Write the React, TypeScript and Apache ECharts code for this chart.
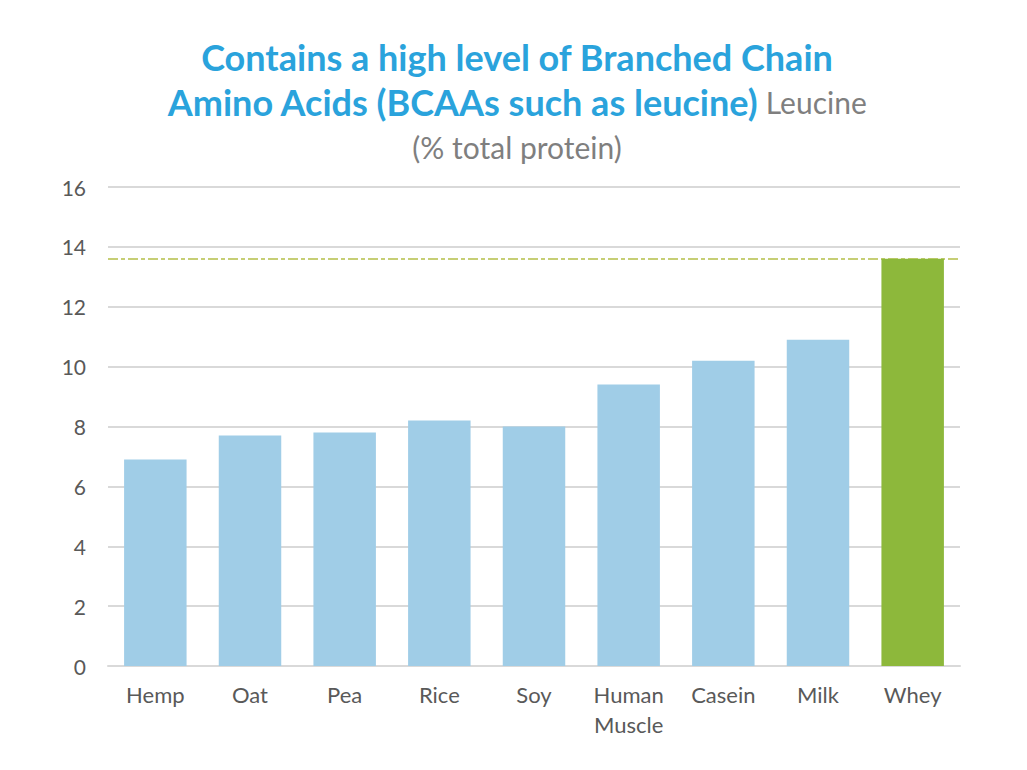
import React, { useEffect, useRef } from "react";
import * as echarts from "echarts";

const categories = ["Hemp", "Oat", "Pea", "Rice", "Soy", "Human\nMuscle", "Casein", "Milk", "Whey"];
const leucineValues = [6.9, 7.7, 7.8, 8.2, 8.0, 9.4, 10.2, 10.9, 13.6];
const highlightIndex = 8;
const referenceLevel = 13.6;
const yTicks = { min: 0, max: 16, interval: 2 };

export default function App() {
  const ref = useRef<HTMLDivElement>(null);
  useEffect(() => {
    if (!ref.current) return;
    const chart = echarts.init(ref.current, null, { renderer: "svg" });
    const font = "Lato, 'Open Sans', sans-serif";
    chart.setOption({
      animation: false,
      backgroundColor: "#ffffff",
      graphic: [
        {
          type: "text",
          x: 517,
          y: 34,
          style: {
            text:
              "{b|Contains a high level of Branched Chain}\n{b|Amino Acids (BCAAs such as leucine)}{g| Leucine}\n{g|(% total protein)}",
            align: "center",
            verticalAlign: "top",
            rich: {
              b: { fontFamily: font, fontWeight: "bold", fontSize: 36, fill: "#2aa3dc", lineHeight: 45 },
              g: { fontFamily: font, fontWeight: "normal", fontSize: 30, fill: "#7f7f7f", lineHeight: 45 },
            },
          },
        },
      ],
      grid: { left: 108, right: 67, top: 187, bottom: 104, containLabel: false },
      xAxis: {
        type: "category",
        data: categories,
        axisLine: { show: true, lineStyle: { color: "#d9d9d9", width: 2 } },
        axisTick: { show: false },
        axisLabel: { color: "#595959", fontFamily: font, fontSize: 22, margin: 13, lineHeight: 30, interval: 0 },
      },
      yAxis: {
        type: "value",
        min: yTicks.min,
        max: yTicks.max,
        interval: yTicks.interval,
        axisLine: { show: false },
        axisTick: { show: false },
        axisLabel: { color: "#595959", fontFamily: font, fontSize: 21, margin: 22 },
        splitLine: { lineStyle: { color: "#d9d9d9", width: 2 } },
      },
      series: [
        {
          type: "bar",
          barWidth: "66%",
          data: leucineValues.map((v, i) => ({
            value: v,
            itemStyle: { color: i === highlightIndex ? "#8db83b" : "#a0cde7" },
          })),
          markLine: {
            silent: true,
            symbol: "none",
            label: { show: false },
            lineStyle: { color: "#b4bf48", type: [10, 3, 4, 3], width: 1.5 },
            data: [{ yAxis: referenceLevel }],
            z: 1,
          },
        },
      ],
    });
    return () => chart.dispose();
  }, []);
  return <div ref={ref} style={{ position: "fixed", left: 0, top: 0, width: 1027, height: 770 }} />;
}
